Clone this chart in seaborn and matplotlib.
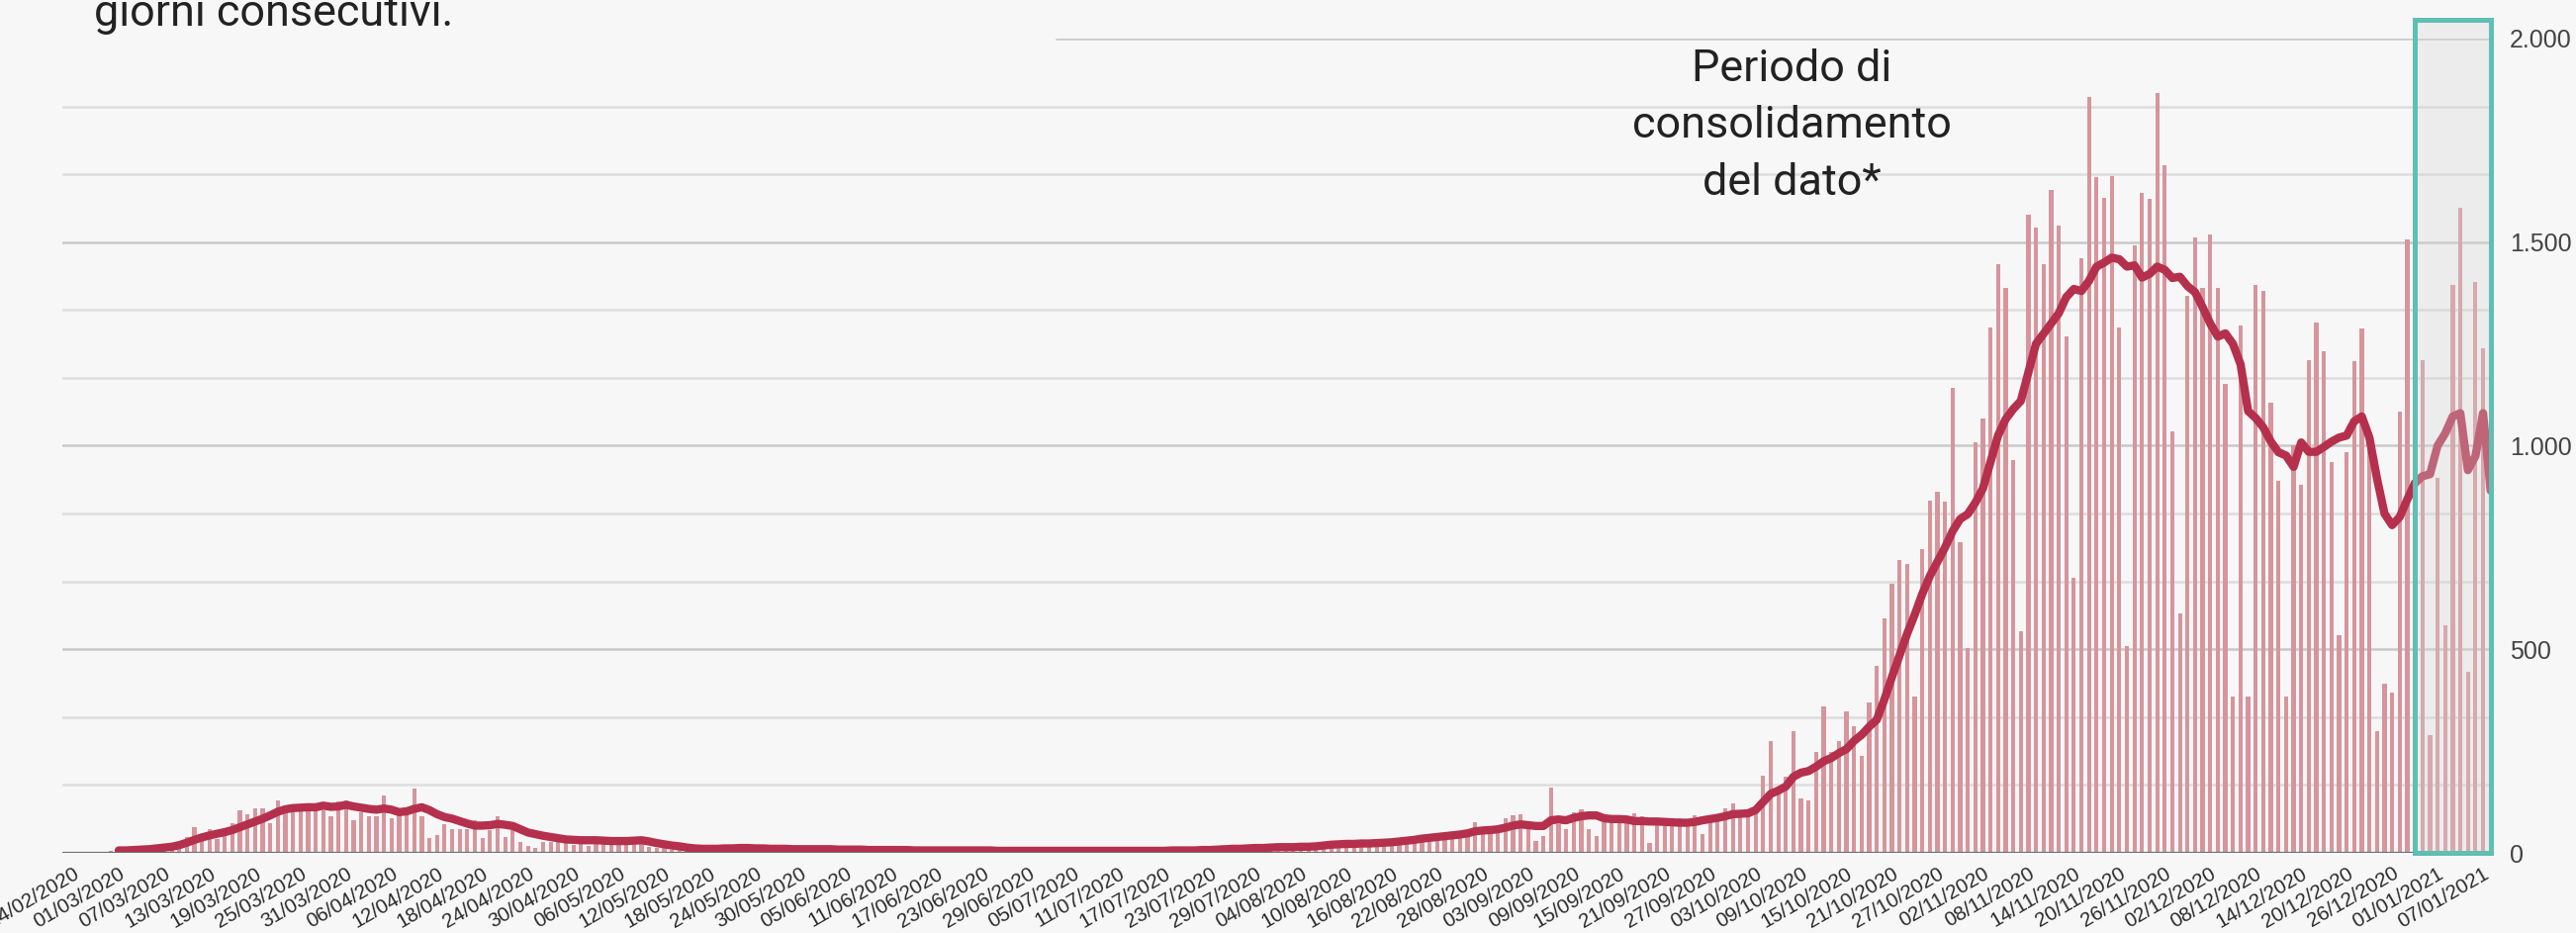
import numpy as np
import pandas as pd
import matplotlib
matplotlib.use("Agg")
import matplotlib.pyplot as plt
import seaborn as sns
from matplotlib.patches import Rectangle

nan = np.nan

# ---------------- data ----------------
start_date = "2020-02-24"
end_date = "2021-01-08"
ma_start = "2020-03-01"

bars_feb = [0, 0, 1, 2, 2, 4]
bars_mar = [3, 5, 4, 8, 10, 14, 20, 18, 24, 39, 63, 47, 59, 35, 43, 73, 105, 94, 110, 110,
            73, 130, 105, 108, 110, 112, 110, 104, 89, 126, 130]
bars_apr = [79, 100, 89, 89, 140, 86, 96, 96, 159, 89, 37, 43, 70, 59, 59, 59, 79, 37, 55, 89,
            39, 57, 27, 16, 13, 27, 27, 30, 35, 20]
bars_may = [28, 18, 22, 32, 35, 30, 25, 28, 22, 15, 12, 20, 8, 10, 9, 6, 8, 5, 10, 9,
            7, 12, 10, 8, 5, 12, 9, 11, 7, 10, 6]
bars_jun = [8, 6, 7, 9, 5, 8, 6, 4, 7, 9, 5, 4, 6, 7, 4, 5, 8, 3, 4, 6,
            5, 7, 3, 4, 5, 6, 3, 4, 5, 4]
bars_jul = [3, 5, 4, 6, 3, 4, 7, 5, 3, 4, 6, 5, 4, 3, 7, 6, 5, 4, 8, 6,
            7, 9, 10, 8, 11, 13, 9, 12, 14, 11, 13]
bars_aug = [14, 12, 16, 13, 15, 20, 22, 18, 24, 20, 23, 21, 26, 24, 25, 28, 30, 33, 42, 36,
            38, 40, 46, 44, 48, 50, 75, 56, 60, 62, 84]
bars_sep = [93, 95, 58, 30, 42, 160, 70, 58, 99, 107, 58, 42, 75, 75, 75, 75, 97, 89, 24, 85,
            81, 85, 85, 81, 93, 45, 81, 89, 109, 121]
bars_oct = [93, 97, 101, 190, 275, 146, 186, 300, 134, 130, 249, 360, 247, 275, 348, 312, 237, 370, 459, 575,
            662, 719, 710, 383, 745, 866, 888, 863, 1143, 763, 503]
bars_nov = [1008, 1067, 1291, 1446, 1388, 964, 544, 1567, 1535, 1447, 1629, 1541, 1269, 676, 1461, 1857,
            1660, 1609, 1661, 1290, 509, 1492, 1621, 1606, 1866, 1690, 1036, 588, 1367, 1511]
bars_dec = [1388, 1518, 1388, 1153, 383, 1296, 383, 1396, 1380, 1106, 913, 383, 1000, 904, 1211, 1303,
            1231, 959, 535, 984, 1208, 1289, 1010, 299, 415, 394, 1084, 1507, 1540, 1211, 289]
bars_jan = [920, 560, 1394, 1584, 445, 1403, 1239, nan]

ma_mar = [6, 6, 7, 8, 9, 11, 13, 15, 19, 25, 32, 38, 43, 47, 51, 56, 63, 70, 77, 84,
          92, 101, 107, 110, 111, 112, 112, 116, 113, 114, 118]
ma_apr = [114, 111, 108, 106, 109, 106, 100, 102, 108, 112, 105, 95, 88, 84, 78, 72, 67, 67, 68, 71,
          69, 66, 58, 50, 46, 42, 39, 36, 33, 32]
ma_may = [31, 31, 31, 30, 29, 29, 29, 30, 31, 28, 24, 21, 18, 16, 13, 11, 10, 10, 10, 11,
          11, 12, 12, 11, 11, 10, 10, 10, 9, 9, 9]
ma_jun = [9, 9, 9, 8, 8, 8, 8, 7, 7, 7, 7, 7, 7, 6, 6, 6, 6, 6, 6, 6,
          6, 6, 6, 6, 5, 5, 5, 5, 5, 5]
ma_jul = [5, 5, 5, 5, 5, 5, 5, 5, 5, 5, 5, 5, 5, 5, 5, 5, 5, 6, 6, 6,
          6, 7, 7, 8, 9, 10, 10, 11, 12, 12, 13]
ma_aug = [14, 14, 14, 15, 15, 16, 18, 20, 21, 22, 22, 23, 23, 24, 25, 26, 28, 30, 32, 35,
          37, 39, 41, 43, 45, 48, 53, 55, 56, 58, 62]
ma_sep = [67, 70, 68, 66, 66, 80, 82, 80, 86, 90, 92, 92, 85, 83, 83, 82, 78, 78, 77, 77,
          76, 75, 74, 74, 76, 80, 83, 86, 90, 95]
ma_oct = [96, 97, 105, 125, 145, 153, 163, 187, 197, 201, 212, 225, 233, 245, 255, 275, 290, 310, 327, 377,
          432, 485, 538, 585, 636, 680, 715, 750, 790, 820, 832]
ma_nov = [860, 895, 960, 1025, 1065, 1090, 1110, 1180, 1250, 1275, 1300, 1325, 1365, 1385, 1380,
          1405, 1440, 1450, 1462, 1458, 1440, 1443, 1413, 1422, 1440, 1432, 1412, 1415, 1392, 1377]
ma_dec = [1340, 1300, 1268, 1276, 1250, 1200, 1085, 1068, 1045, 1010, 984, 976, 948, 1008, 985, 985,
          997, 1010, 1020, 1025, 1060, 1072, 1020, 920, 833, 805, 825, 868, 908, 925, 930]
ma_jan = [1000, 1030, 1072, 1080, 940, 975, 1080, 890]

y_ticks = [0, 500, 1000, 1500, 2000]
y_labels = ["0", "500", "1.000", "1.500", "2.000"]

box_start = "2020-12-29"
box_end = "2021-01-08"

title_tail = "giorni consecutivi."
note_lines = ["Periodo di", "consolidamento", "del dato*"]

# ---------------- assemble ----------------
dates = pd.date_range(start_date, end_date, freq="D")
daily = (bars_feb + bars_mar + bars_apr + bars_may + bars_jun + bars_jul + bars_aug +
         bars_sep + bars_oct + bars_nov + bars_dec + bars_jan)
ma = ([nan] * 6 + ma_mar + ma_apr + ma_may + ma_jun + ma_jul + ma_aug + ma_sep +
      ma_oct + ma_nov + ma_dec + ma_jan)
ref = pd.Timestamp(ma_start)
xnum = np.array([(d - ref).days for d in dates], dtype=float)
df = pd.DataFrame({"x": xnum, "daily": daily, "ma": ma})

tick_idx = list(range(0, len(dates), 6))
tick_x = xnum[tick_idx]
tick_labels = [dates[k].strftime("%d/%m/%Y") for k in tick_idx]

# ---------------- style ----------------
BG = "#f7f7f7"
BAR_C = "#d6959c"
LINE_C = "#b5304d"
BOX_C = "#5ebfb2"

sns.set_style("white")
plt.rcParams["font.family"] = ["Liberation Sans", "DejaVu Sans"]

W, H = 2604, 943
fig = plt.figure(figsize=(W / 100, H / 100), dpi=100, facecolor=BG)
ax_left, ax_right, ax_top, ax_bot = 63, 2520, 39, 862
ax = fig.add_axes([ax_left / W, (H - ax_bot) / H, (ax_right - ax_left) / W, (ax_bot - ax_top) / H])
ax.set_facecolor(BG)

# grid lines (every 2000/12)
for k in range(1, 13):
    lvl = 2000 * k / 12
    col = "#c9c9c9" if k % 3 == 0 else "#dddddd"
    xmin = 0.409 if k == 12 else 0.0
    ax.axhline(lvl, xmin=xmin, xmax=1, color=col, lw=1.8, zorder=0.5)

sns.barplot(data=df.dropna(subset=["daily"]), x="x", y="daily", native_scale=True,
            color=BAR_C, saturation=1, width=0.55, errorbar=None, linewidth=0,
            ax=ax, zorder=2)
sns.lineplot(data=df.dropna(subset=["ma"]), x="x", y="ma", color=LINE_C, lw=6.0,
             solid_capstyle="round", solid_joinstyle="round", ax=ax, zorder=3)

ax.axhline(0, color="#6e6e6e", lw=2.3, zorder=4)

x0 = (pd.Timestamp(box_start) - ref).days
x1 = (pd.Timestamp(box_end) - ref).days
ax.add_patch(Rectangle((x0, 0), x1 - x0, 2046, facecolor=(0.84, 0.84, 0.84, 0.32),
                       edgecolor=BOX_C, lw=3.6, clip_on=False, zorder=6))

ax.set_xlim(-7.44, 313.3)
ax.set_ylim(0, 2000)
for s in ax.spines.values():
    s.set_visible(False)
ax.set_xlabel("")
ax.set_ylabel("")

ax.set_xticks(tick_x)
ax.set_xticklabels(tick_labels, rotation=30, ha="right", rotation_mode="anchor",
                   fontsize=14.8, color="#2b2b2b")
ax.tick_params(axis="x", length=0, pad=8)

ax.yaxis.tick_right()
ax.set_yticks(y_ticks)
ax.set_yticklabels(y_labels, fontsize=18, color="#444444")
ax.tick_params(axis="y", length=0, pad=12)
ax.grid(False)

# texts
fig.text(95 / W, 1 - 26 / H, title_tail, fontsize=32.4, family=["Roboto", "DejaVu Sans"],
         color="#222222", ha="left", va="baseline")
for txt, yb in zip(note_lines, [82, 139, 197]):
    fig.text(1811 / W, 1 - yb / H, txt, fontsize=32.4, family=["Roboto", "DejaVu Sans"],
             color="#222222", ha="center", va="baseline")

fig.savefig("out.png", dpi=100, facecolor=BG)
